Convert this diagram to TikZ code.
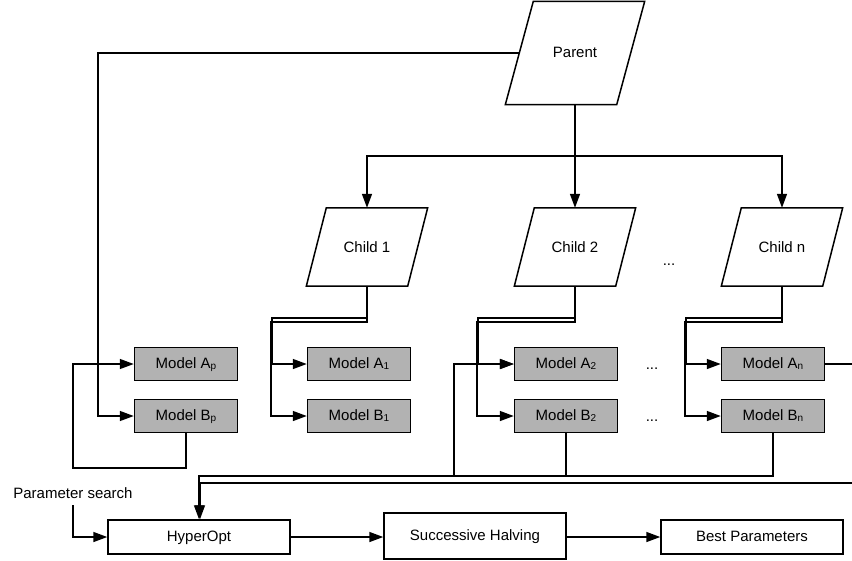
\documentclass[tikz,border=0pt]{standalone}
\usepackage{fontspec}
\setmainfont{Liberation Sans}
\usetikzlibrary{arrows.meta}
\newcommand{\sbx}[1]{\raisebox{-1pt}{\fontsize{10}{10}\selectfont #1}}
\newcommand{\paraoutline}[2]{%
  \draw[ln] ([xshift=#2/2]#1.north west) -- ([xshift=#2/2]#1.north east)
    -- ([xshift=-#2/2]#1.south east) -- ([xshift=-#2/2]#1.south west) -- cycle;}
\begin{document}
\begin{tikzpicture}[x=1pt,y=-1pt,
  every node/.style={font=\fontsize{15}{18}\selectfont},
  ln/.style={line width=1.5pt, line join=miter},
  arr/.style={-{Triangle[length=14pt,width=10pt]}},
  para/.style={rectangle, draw=none, inner sep=0pt},
  model/.style={draw, line width=1.5pt, fill=gray!60, minimum width=103pt, minimum height=33pt,
    inner sep=0pt, text height=11pt, text depth=3pt},
  proc/.style={draw, line width=1.5pt, fill=white, minimum width=182pt, minimum height=34pt,
    inner sep=0pt, text height=11pt, text depth=3pt},
  lbl/.style={fill=white, inner xsep=1pt, inner ysep=0pt, text height=30pt, text depth=6pt, anchor=base},
  dots/.style={anchor=base, inner sep=0pt}]
\useasboundingbox (0,0) rectangle (852,560);
\clip (0,0) rectangle (852,560);

% parallelograms
\node[para, minimum width=111pt, minimum height=103pt] (parent) at (575,53) {\raisebox{2pt}{Parent}};
\node[para, minimum width=101pt, minimum height=78pt] (c1) at (367,247) {Child 1};
\node[para, minimum width=101pt, minimum height=78pt] (c2) at (575,247) {Child 2};
\node[para, minimum width=101pt, minimum height=78pt] (cn) at (782,247) {Child n};
\paraoutline{parent}{28}
\paraoutline{c1}{20}
\paraoutline{c2}{20}
\paraoutline{cn}{20}

% models
\node[model] (mAp) at (186,364) {Model A\sbx{p}};
\node[model] (mBp) at (186,416) {Model B\sbx{p}};
\node[model] (mA1) at (359,364) {Model A\sbx{1}};
\node[model] (mB1) at (359,416) {Model B\sbx{1}};
\node[model] (mA2) at (566,364) {Model A\sbx{2}};
\node[model] (mB2) at (566,416) {Model B\sbx{2}};
\node[model] (mAn) at (773,364) {Model A\sbx{n}};
\node[model] (mBn) at (773,416) {Model B\sbx{n}};

% dots
\node[dots] (d1) at (669,265) {...};
\node[dots] (d2) at (652,369) {...};
\node[dots] (d3) at (652,421) {...};

% process boxes
\node[proc] (hyp) at (199,537) {HyperOpt};
\node[proc, minimum height=46pt] (sh) at (475,536) {Successive Halving};
\node[proc] (bp) at (752,537) {Best Parameters};

% parent connectors
\draw[ln,arr] (parent.west) -| (98,200) |- (mBp.west);
\coordinate (pb) at (575,156);
\draw[ln] (parent.south) -- (pb);
\draw[ln,arr] (pb) -| (c1.north);
\draw[ln,arr] (pb) -- (c2.north);
\draw[ln,arr] (pb) -| (cn.north);

% child connectors
\draw[ln,arr] (c1.south) |- (272,318) |- (mA1.west);
\draw[ln,arr] (c1.south) |- (271,322) |- (mB1.west);
\draw[ln,arr] (c2.south) |- (478,318) |- (mA2.west);
\draw[ln,arr] (c2.south) |- (477,322) |- (mB2.west);
\draw[ln,arr] (cn.south) |- (686,318) |- (mAn.west);
\draw[ln,arr] (cn.south) |- (685,322) |- (mBn.west);

% feedback / parameter search
\coordinate (j1) at (73,468);
\draw[ln] (mBp.south) |- (j1);
\draw[ln,arr] (j1) |- (mAp.west);
\draw[ln,arr] (j1) |- (hyp.west);
\node[lbl] (ps) at (73,498.5) {Parameter search};

\coordinate (bus1) at (199,476);
\draw[ln,arr] (mBn.south) |- (bus1) -- (hyp.north);
\draw[ln] (mB2.south) -- (mB2.south |- bus1);
\coordinate (j3) at (454,476);
\draw[ln,arr] (j3) |- (mA2.west);
\draw[ln,arr] (mAn.east) -| (862,483) -| ([xshift=1pt]hyp.north);

% pipeline
\draw[ln,arr] (hyp.east) -- (hyp.east -| sh.west);
\draw[ln,arr] (sh.east |- bp.west) -- (bp.west);
\end{tikzpicture}
\end{document}
